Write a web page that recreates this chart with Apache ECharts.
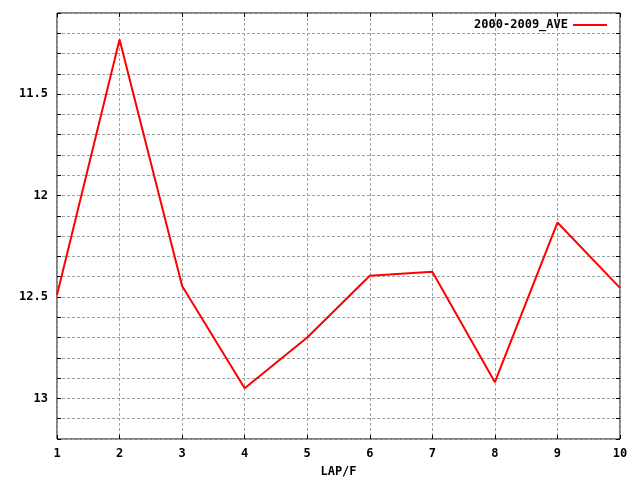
<!DOCTYPE html>
<html><head><meta charset="utf-8">
<script src="https://cdn.jsdelivr.net/npm/echarts@6/dist/echarts.min.js"></script>
<style>html,body{margin:0;padding:0;background:#fff}#c{width:640px;height:480px}</style>
</head><body><div id="c"></div>
<script>
const laps = [1, 2, 3, 4, 5, 6, 7, 8, 9, 10];
const ave = [12.49, 11.231, 12.446, 12.95, 12.70, 12.395, 12.376, 12.92, 12.133, 12.455];
const seriesName = '2000-2009_AVE';
const xTitle = 'LAP/F';

const font = '"DejaVu Sans Mono", monospace';
const chart = echarts.init(document.getElementById('c'), null, {renderer: 'canvas'});
const isHalf = v => Math.abs(v * 2 - Math.round(v * 2)) < 1e-6;
const fmtY = v => isHalf(v) ? String(Math.round(v * 10) / 10) : '';
const dash = {type: [3, 2], color: '#a0a0a0', width: 1};
chart.setOption({
  animation: false,
  backgroundColor: '#fff',
  grid: {left: 57, right: 20, top: 13, bottom: 41, outerBoundsMode: 'none', containLabel: false,
         show: true, borderColor: '#000', borderWidth: 1, backgroundColor: 'transparent'},
  legend: {
    show: true, right: 33, top: 19, padding: 0, align: 'right', icon: 'rect', itemWidth: 34, itemHeight: 2,
    textStyle: {fontFamily: font, fontSize: 12, fontWeight: 'bold', color: '#000'},
    data: [seriesName]
  },
  xAxis: [{
    type: 'value', min: 1, max: 10, interval: 1,
    name: xTitle, nameLocation: 'middle', nameGap: 27,
    nameTextStyle: {fontFamily: font, fontSize: 12, fontWeight: 'bold', color: '#000'},
    axisLine: {show: false},
    axisTick: {show: true, inside: true, length: 4, lineStyle: {color: '#000'}},
    axisLabel: {fontFamily: font, fontSize: 12, fontWeight: 'bold', color: '#000', margin: 9},
    splitLine: {show: true, lineStyle: dash}
  }, {
    type: 'value', min: 1, max: 10, interval: 1, position: 'top',
    axisLine: {show: false}, axisLabel: {show: false},
    axisTick: {show: true, inside: true, length: 4, lineStyle: {color: '#000'}},
    splitLine: {show: false}
  }],
  yAxis: [{
    type: 'value', inverse: true, min: 11.1, max: 13.2, interval: 0.1,
    axisLine: {show: false},
    axisTick: {show: true, inside: true, length: 4, lineStyle: {color: '#000'}},
    axisLabel: {fontFamily: font, fontSize: 12, fontWeight: 'bold', color: '#000', margin: 9, formatter: fmtY, showMinLabel: true, showMaxLabel: true},
    splitLine: {show: true, lineStyle: dash}
  }, {
    type: 'value', inverse: true, min: 11.1, max: 13.2, interval: 0.1, position: 'right',
    axisLine: {show: false}, axisLabel: {show: false},
    axisTick: {show: true, inside: true, length: 4, lineStyle: {color: '#000'}},
    splitLine: {show: false}
  }],
  series: [{
    name: seriesName, type: 'line', xAxisIndex: 0, yAxisIndex: 0,
    data: laps.map((x, i) => [x, ave[i]]),
    showSymbol: false, symbol: 'none',
    lineStyle: {color: '#ff0000', width: 2},
    itemStyle: {color: '#ff0000'}
  }]
});
</script></body></html>
